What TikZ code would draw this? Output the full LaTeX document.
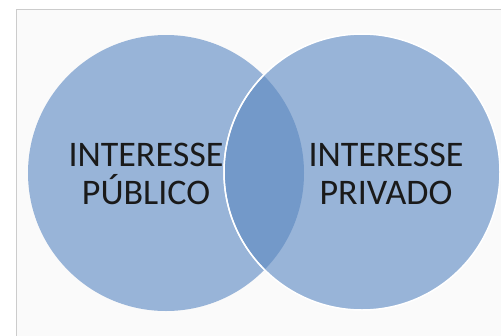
\documentclass[tikz,border=0pt]{standalone}
\usepackage{fontspec}
\setmainfont{Carlito}
\definecolor{vennFill}{HTML}{98B4D8}
\definecolor{vennOverlap}{HTML}{7399C9}
\definecolor{frameLine}{HTML}{CCCCCC}
\definecolor{frameBack}{HTML}{FAFAFA}
\definecolor{labelText}{HTML}{1A1A1A}
\begin{document}
\begin{tikzpicture}[x=1pt, y=-1pt]
% Venn diagram of two interests
\def\rad{138}
\tikzset{
  setcircle/.style={fill=vennFill},
  setlabel/.style={text=labelText, align=center, font=\fontsize{36}{38}\selectfont}
}
\useasboundingbox (0,0) rectangle (501,335);
% Page frame, running off the right and bottom edges
\fill[white] (0,0) rectangle (501,335);
\filldraw[fill=frameBack, draw=frameLine, line width=1pt] (16.5,9.5) rectangle (520,350);
% Circles
\path[setcircle] (166,173) circle (\rad);
\path[setcircle, draw=white, line width=1.5pt] (362,172) circle (\rad);
% Overlap
\begin{scope}
  \clip (166,173) circle (\rad);
  \fill[vennOverlap] (362,172) circle (\rad-0.8);
\end{scope}
\begin{scope}
  \clip (166,173) circle (\rad);
  \draw[white, line width=1.5pt] (362,172) circle (\rad);
\end{scope}
% Labels
\node[setlabel] (publico) at (146,174) {INTERESSE\\PÚBLICO};
\node[setlabel] (privado) at (386,174) {INTERESSE\\PRIVADO};
\end{tikzpicture}
\end{document}
